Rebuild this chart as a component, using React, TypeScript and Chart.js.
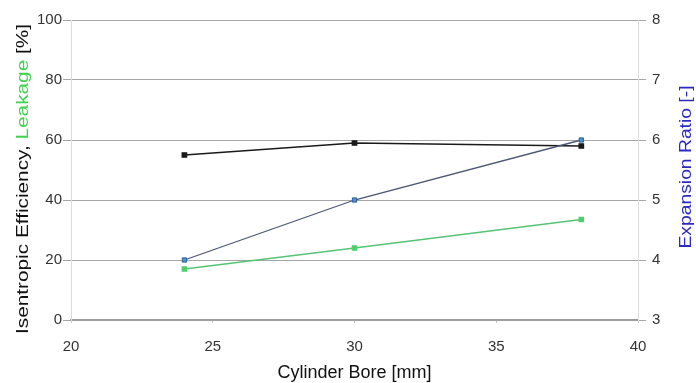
import React, { useEffect, useRef } from "react";
import { Chart, registerables } from "chart.js";

Chart.register(...registerables);

const boreMm = [24, 30, 38];
const isentropicEfficiency = [55, 59, 58];
const leakage = [17, 24, 33.5];
const expansionRatio = [4, 5, 6];

const xTicks = [20, 25, 30, 35, 40];
const leftTicks = [0, 20, 40, 60, 80, 100];
const rightTicks = [3, 4, 5, 6, 7, 8];

const FONT = "'Liberation Sans', Arial, sans-serif";

const titlePlugin = {
  id: "customTitles",
  afterDraw(chart: any) {
    const ctx = chart.ctx;
    const area = chart.chartArea;
    ctx.save();
    ctx.font = `17px ${FONT}`;
    ctx.textBaseline = "middle";
    // Left multi-coloured title
    const parts = [
      { t: "Isentropic Efficiency, ", c: "#111111" },
      { t: "Leakage", c: "#3fd34f" },
      { t: " [%]", c: "#111111" },
    ];
    const total = parts.reduce((s, p) => s + ctx.measureText(p.t).width, 0);
    const leftLen = 310;
    ctx.save();
    ctx.translate(23, 179);
    ctx.rotate(-Math.PI / 2);
    ctx.scale(leftLen / total, 1);
    let x = -total / 2;
    ctx.textAlign = "left";
    for (const p of parts) {
      ctx.fillStyle = p.c;
      ctx.fillText(p.t, x, 0);
      x += ctx.measureText(p.t).width;
    }
    ctx.restore();
    // Right title
    const rt = "Expansion Ratio [-]";
    const rw = ctx.measureText(rt).width;
    ctx.save();
    ctx.translate(686, 167);
    ctx.rotate(-Math.PI / 2);
    ctx.scale(163 / rw, 1);
    ctx.textAlign = "center";
    ctx.fillStyle = "#2b2bc4";
    ctx.fillText(rt, 0, 0);
    ctx.restore();
    // X title
    ctx.font = `18px ${FONT}`;
    ctx.textAlign = "center";
    ctx.fillStyle = "#111111";
    ctx.fillText("Cylinder Bore [mm]", (area.left + area.right) / 2, 373);
    ctx.restore();
  },
};

export default function App() {
  const ref = useRef<HTMLCanvasElement>(null);
  useEffect(() => {
    if (!ref.current) return;
    const chart = new Chart(ref.current, {
      type: "line",
      data: {
        datasets: [
          {
            label: "Expansion Ratio",
            data: boreMm.map((b, i) => ({ x: b, y: expansionRatio[i] })),
            yAxisID: "y1",
            borderColor: "#4d5675",
            borderWidth: 1.3,
            pointStyle: "rect",
            pointRadius: 3,
            pointBackgroundColor: "#4a95d4",
            pointBorderColor: "#2c5f96",
            pointBorderWidth: 1,
          },
          {
            label: "Isentropic Efficiency",
            data: boreMm.map((b, i) => ({ x: b, y: isentropicEfficiency[i] })),
            yAxisID: "y",
            borderColor: "#1a1a1a",
            borderWidth: 1.5,
            pointStyle: "rect",
            pointRadius: 3,
            pointBackgroundColor: "#1a1a1a",
            pointBorderColor: "#1a1a1a",
          },
          {
            label: "Leakage",
            data: boreMm.map((b, i) => ({ x: b, y: leakage[i] })),
            yAxisID: "y",
            borderColor: "#55c474",
            borderWidth: 1.3,
            pointStyle: "rect",
            pointRadius: 3,
            pointBackgroundColor: "#4fcf6c",
            pointBorderColor: "#4fcf6c",
          },
        ],
      },
      options: {
        animation: false,
        responsive: false,
        maintainAspectRatio: false,
        layout: { padding: { top: 20, left: 0, right: 0, bottom: 0 } },
        plugins: { legend: { display: false }, tooltip: { enabled: false } },
        scales: {
          x: {
            type: "linear",
            min: 20,
            max: 40,
            afterBuildTicks: (s: any) => {
              s.ticks = xTicks.map((v) => ({ value: v }));
            },
            afterFit: (s: any) => {
              s.height = 63;
            },
            grid: {
              drawOnChartArea: false,
              drawTicks: true,
              tickLength: 3,
              color: "#c8c8c8",
            },
            border: { display: true, color: "#999999", width: 1.5 },
            ticks: {
              color: "#333333",
              font: { family: FONT, size: 15 },
              padding: 15,
            },
          },
          y: {
            position: "left",
            min: 0,
            max: 100,
            afterBuildTicks: (s: any) => {
              s.ticks = leftTicks.map((v) => ({ value: v }));
            },
            afterFit: (s: any) => {
              s.width = 71;
            },
            grid: {
              color: "#a6a6a6",
              lineWidth: 1,
              drawTicks: true,
              tickLength: 8,
            },
            border: { display: true, color: "#dddddd" },
            ticks: {
              color: "#333333",
              font: { family: FONT, size: 15 },
              padding: 1,
            },
          },
          y1: {
            position: "right",
            min: 3,
            max: 8,
            afterBuildTicks: (s: any) => {
              s.ticks = rightTicks.map((v) => ({ value: v }));
            },
            afterFit: (s: any) => {
              s.width = 58;
            },
            grid: {
              drawOnChartArea: false,
              drawTicks: true,
              tickLength: 8,
              color: "#a6a6a6",
            },
            border: { display: true, color: "#dddddd" },
            ticks: {
              color: "#333333",
              font: { family: FONT, size: 15 },
              padding: 6,
            },
          },
        },
      },
      plugins: [titlePlugin],
    } as any);
    return () => chart.destroy();
  }, []);
  return (
    <div style={{ position: "fixed", left: 0, top: 0, width: 696, height: 383, background: "#fff" }}>
      <canvas ref={ref} width={696} height={383} style={{ width: 696, height: 383 }} />
    </div>
  );
}
